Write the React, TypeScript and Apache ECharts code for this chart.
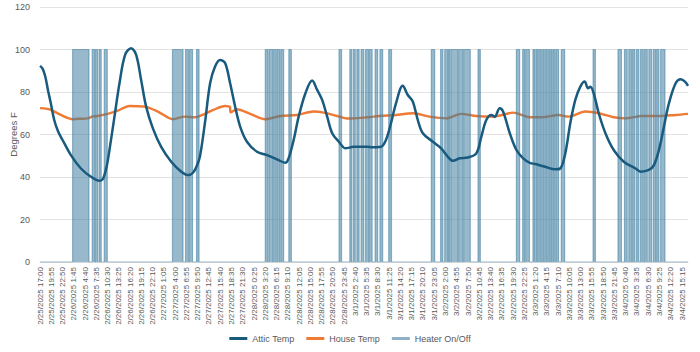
import React, { useEffect, useRef } from "react";
import * as echarts from "echarts";

// x values are minutes after 2/25/2025 17:00
const tickLabels = [
  "2/25/2025 17:00", "2/25/2025 19:55", "2/25/2025 22:50", "2/26/2025 1:45", "2/26/2025 4:40",
  "2/26/2025 7:35", "2/26/2025 10:30", "2/26/2025 13:25", "2/26/2025 16:20", "2/26/2025 19:15",
  "2/26/2025 22:10", "2/27/2025 1:05", "2/27/2025 4:00", "2/27/2025 6:55", "2/27/2025 9:50",
  "2/27/2025 12:45", "2/27/2025 15:40", "2/27/2025 18:35", "2/27/2025 21:30", "2/28/2025 0:25",
  "2/28/2025 3:20", "2/28/2025 6:15", "2/28/2025 9:10", "2/28/2025 12:05", "2/28/2025 15:00",
  "2/28/2025 17:55", "2/28/2025 20:50", "2/28/2025 23:45", "3/1/2025 2:40", "3/1/2025 5:35",
  "3/1/2025 8:30", "3/1/2025 11:25", "3/1/2025 14:20", "3/1/2025 17:15", "3/1/2025 20:10",
  "3/1/2025 23:05", "3/2/2025 2:00", "3/2/2025 4:55", "3/2/2025 7:50", "3/2/2025 10:45",
  "3/2/2025 13:40", "3/2/2025 16:35", "3/2/2025 19:30", "3/2/2025 22:25", "3/3/2025 1:20",
  "3/3/2025 4:15", "3/3/2025 7:10", "3/3/2025 10:05", "3/3/2025 13:00", "3/3/2025 15:55",
  "3/3/2025 18:50", "3/3/2025 21:45", "3/4/2025 0:40", "3/4/2025 3:35", "3/4/2025 6:30",
  "3/4/2025 9:25", "3/4/2025 12:20", "3/4/2025 15:15",
];
const tickStep = 175;
const lastMinute = 10068;

const atticTemp: [number, number][] = [
  [0, 92.3], [40, 91], [80, 87.5], [130, 80], [168, 74.7], [221, 66.8], [280, 61.5], [351, 57.4], [480, 50.3], [636, 44],
  [792, 40.1], [923, 38.2], [970, 38.8], [1001, 40.9], [1040, 45.5], [1079, 52.7], [1157, 68.4], [1235, 84.1],
  [1322, 97.5], [1416, 100.6], [1494, 97.5], [1571, 85.7], [1649, 73.1], [1754, 62.9],
  [1883, 54.2], [2039, 47.2], [2195, 42.5], [2300, 40.9], [2377, 42], [2440, 45.5], [2487, 50],
  [2565, 66], [2643, 84.1], [2720, 92], [2798, 95.1], [2876, 93.6], [2954, 84.1],
  [3032, 73.1], [3110, 63.7], [3215, 56.6], [3371, 51.9], [3526, 50.3], [3682, 48.3],
  [3812, 46.7], [3863, 48.8], [3941, 57.4], [4019, 68.4], [4124, 79.4], [4228, 85.4],
  [4306, 81], [4384, 76.3], [4462, 68.4], [4540, 60.6], [4643, 56.6], [4747, 53.5],
  [4877, 54.2], [5085, 54.2], [5168, 54], [5298, 54.2], [5375, 57.4], [5453, 65.3],
  [5531, 74.7], [5636, 82.9], [5714, 78.6], [5792, 75.5], [5870, 66.8], [5948, 60.6],
  [6104, 56.6], [6233, 53.5], [6337, 49.5], [6415, 47.6], [6520, 48.8], [6649, 49.2],
  [6779, 51.1], [6857, 59], [6934, 66.8], [7012, 69.2], [7065, 68.4], [7143, 72.4],
  [7195, 70.8], [7299, 60.6], [7402, 52.7], [7507, 48.8], [7611, 46.7], [7694, 46.1],
  [7850, 44.8], [8006, 43.6], [8083, 44], [8161, 51.1], [8239, 65.3], [8317, 76.3],
  [8395, 82.5], [8462, 84.9], [8515, 81.8], [8551, 82.5], [8603, 79.4], [8681, 70],
  [8785, 60.6], [8914, 52.7], [9070, 47.2], [9253, 44], [9331, 42.5], [9460, 43.3],
  [9538, 45.6], [9616, 52.7], [9694, 63.7], [9772, 74.7], [9876, 84.1], [9954, 86],
  [10021, 84.9], [10068, 82.9],
];

const houseTemp: [number, number][] = [
  [0, 72.4], [90, 72.2], [168, 71.6], [324, 69.2], [507, 67.2], [600, 67.4], [741, 67.6],
  [820, 68.5], [896, 68.7], [1052, 69.7], [1208, 71.2], [1391, 73.4], [1624, 73.1],
  [1832, 70.8], [2066, 67.2], [2248, 68.4], [2404, 68.1], [2560, 69.7], [2694, 71.6],
  [2876, 73.4], [2950, 72.9], [2962, 70.4], [3059, 71.9], [3266, 69.7], [3500, 67.2],
  [3734, 68.7], [3994, 69.2], [4253, 70.8], [4409, 70.3], [4618, 68.7], [4774, 67.5],
  [5085, 68.1], [5273, 68.7], [5531, 69.2], [5792, 70], [6052, 68.4], [6311, 67.6],
  [6545, 69.7], [6779, 68.7], [7039, 68.4], [7351, 70.3], [7611, 68.1], [7798, 68.1],
  [8057, 69.2], [8213, 68.4], [8473, 70.8], [8681, 70], [8914, 68.1], [9097, 67.6],
  [9357, 68.7], [9616, 68.7], [9876, 69.2], [10068, 69.7],
];

// heater "on" periods: [start minute, end minute]
const heaterOn: [number, number][] = [
  [507, 761], [811, 850], [862, 896], [920, 951], [998, 1045],
  [2058, 2222], [2261, 2307], [2323, 2370], [2432, 2471],
  [3500, 3542], [3559, 3617], [3629, 3671], [3684, 3723], [3742, 3785], [3866, 3905],
  [4646, 4685], [4814, 4841], [4867, 4898], [4923, 4958], [4989, 5031], [5059, 5106],
  [5117, 5160], [5207, 5246], [5282, 5324], [5418, 5461],
  [6080, 6132], [6224, 6259], [6288, 6333], [6345, 6368], [6384, 6493], [6504, 6571],
  [6582, 6685], [6805, 6841],
  [7402, 7452], [7499, 7533], [7546, 7605], [7659, 7691], [7706, 7736], [7748, 7779],
  [7795, 7826], [7842, 7873], [7889, 7920], [7935, 7959], [7974, 8005], [8021, 8057],
  [8099, 8151],
  [8593, 8629],
  [8980, 9034], [9081, 9123], [9148, 9190], [9206, 9242], [9268, 9304], [9331, 9373],
  [9393, 9435], [9460, 9502], [9529, 9565], [9580, 9616], [9643, 9710],
];
const heaterOnValue = 100;

const FONT = "'Liberation Sans', Arial, sans-serif";
const TEXT = "#595959";

export default function App() {
  const ref = useRef<HTMLDivElement>(null);
  useEffect(() => {
    document.body.style.margin = "0";
    if (!ref.current) return;
    const chart = echarts.init(ref.current, undefined, { renderer: "svg" });

    const heaterData: [number, number][] = [[0, 0]];
    heaterOn.forEach(([s, e]) => {
      heaterData.push([s, 0], [s, heaterOnValue], [e, heaterOnValue], [e, 0]);
    });
    heaterData.push([lastMinute, 0]);

    const heaterColor = "rgba(66,128,160,0.55)";

    chart.setOption({
      animation: false,
      textStyle: { fontFamily: FONT },
      grid: {
        left: 40, right: 12, top: 7, bottom: 90,
        containLabel: false, outerBoundsMode: "none",
      },
      legend: {
        bottom: 4,
        left: "center",
        itemGap: 12,
        itemWidth: 18,
        itemHeight: 3,
        icon: "rect",
        textStyle: { color: TEXT, fontSize: 9, fontFamily: FONT },
        data: ["Attic Temp", "House Temp", "Heater On/Off"],
      },
      xAxis: {
        type: "value",
        min: 0,
        max: lastMinute,
        interval: tickStep,
        axisLine: { show: true, lineStyle: { color: "#D9D9D9" } },
        axisTick: { show: false },
        splitLine: { show: false },
        axisLabel: {
          rotate: 90,
          fontSize: 8,
          color: TEXT,
          fontFamily: FONT,
          margin: 5,
          showMaxLabel: false,
          formatter: (v: number) => {
            const i = Math.round(v / tickStep);
            if (Math.abs(v - i * tickStep) > 0.01) return "";
            return tickLabels[i] ?? "";
          },
        },
      },
      yAxis: {
        type: "value",
        min: 0,
        max: 120,
        interval: 20,
        name: "Degrees F",
        nameLocation: "middle",
        nameGap: 22,
        nameRotate: 90,
        nameMoveOverlap: false,
        nameTextStyle: { color: TEXT, fontSize: 9.5, fontFamily: FONT },
        axisLine: { show: false },
        axisTick: { show: false },
        splitLine: { lineStyle: { color: "#E3E3E3", width: 1 } },
        axisLabel: { color: TEXT, fontSize: 9, fontFamily: FONT, margin: 10 },
      },
      series: [
        {
          name: "Attic Temp",
          type: "line",
          data: atticTemp,
          smooth: 0.35,
          showSymbol: false,
          symbol: "none",
          z: 4,
          lineStyle: { color: "#185B7E", width: 2.5 },
          itemStyle: { color: "#185B7E" },
        },
        {
          name: "House Temp",
          type: "line",
          data: houseTemp,
          smooth: 0.3,
          showSymbol: false,
          symbol: "none",
          z: 2,
          lineStyle: { color: "#EE7A34", width: 2.4 },
          itemStyle: { color: "#EE7A34" },
        },
        {
          name: "Heater On/Off",
          type: "line",
          data: heaterData,
          showSymbol: false,
          symbol: "none",
          z: 3,
          lineStyle: { color: heaterColor, width: 1.2 },
          itemStyle: { color: "#8DB2C6" },
          areaStyle: { color: heaterColor, opacity: 1 },
        },
      ],
    });
    return () => chart.dispose();
  }, []);
  return <div ref={ref} style={{ width: 700, height: 352 }} />;
}
